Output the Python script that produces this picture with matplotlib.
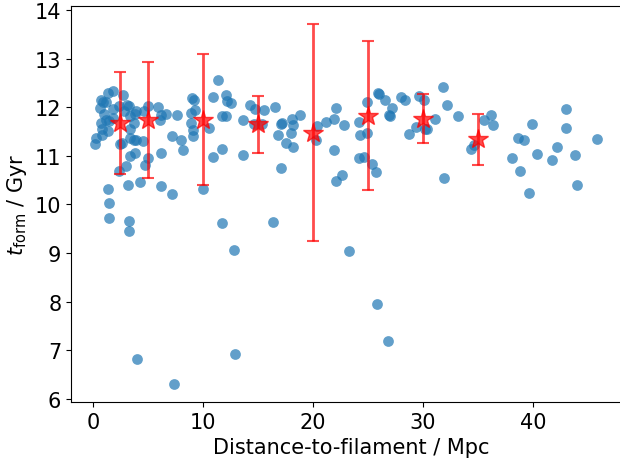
import matplotlib
matplotlib.use("Agg")
import matplotlib.pyplot as plt

# Individual galaxies: distance to filament (Mpc) and formation time (Gyr)
dist = [0.2, 0.3, 0.6, 0.7, 0.7, 0.8, 0.8, 0.9, 1.0, 1.2, 1.2, 1.4, 1.4, 1.4,
        1.5, 1.5, 1.5, 1.8, 1.8, 1.8, 2.4, 2.4, 2.5, 2.6, 2.7, 2.8, 3.0, 3.1,
        3.2, 3.3, 3.3, 3.3, 3.4, 3.4, 3.4, 3.4, 3.7, 3.7, 3.8, 3.8, 3.9, 3.9,
        4.0, 4.3, 4.5, 4.6, 4.7, 5.0, 5.0, 5.9, 6.1, 6.2, 6.2, 6.2, 6.6, 7.2,
        7.2, 7.4, 7.6, 8.0, 8.2, 8.9, 8.9, 9.0, 9.1, 9.1, 9.2, 9.3, 10.0, 10.5,
        10.9, 10.9, 11.4, 11.7, 11.7, 11.7, 12.1, 12.1, 12.2, 12.5, 12.8, 12.9,
        13.6, 13.6, 14.3, 14.7, 14.6, 15.4, 15.5, 16.4, 16.5, 16.8, 17.1, 17.1,
        17.2, 17.5, 18.0, 18.1, 18.2, 18.2, 18.8, 20.3, 20.4, 21.2, 21.9, 21.9,
        22.1, 22.1, 22.6, 22.8, 23.3, 24.2, 24.2, 24.3, 24.6, 24.9, 24.9, 25.4,
        25.7, 25.8, 25.9, 26.0, 26.5, 26.8, 26.9, 27.0, 27.2, 28.0, 28.4, 28.7,
        29.4, 29.6, 30.1, 30.2, 30.4, 31.1, 31.8, 31.9, 32.2, 33.2, 34.4, 34.6,
        35.5, 36.2, 36.4, 38.1, 38.6, 38.8, 39.2, 39.6, 39.9, 40.4, 41.7, 42.2,
        43.0, 43.0, 43.8, 44.0, 45.8]
t_form = [11.25, 11.37, 11.98, 12.16, 11.68, 11.55, 11.44, 12.11, 11.86, 12.11,
          11.75, 12.29, 11.51, 10.32, 11.72, 10.03, 9.72, 12.34, 11.97, 11.79,
          12.03, 10.70, 11.24, 11.27, 12.25, 11.92, 10.80, 12.06, 10.41, 12.04,
          9.66, 9.45, 11.82, 11.55, 11.37, 11.00, 11.68, 11.33, 11.86, 11.07,
          11.92, 11.32, 6.82, 10.47, 11.30, 11.92, 10.82, 12.03, 10.95, 12.01,
          11.75, 11.84, 11.07, 10.39, 11.87, 11.41, 10.21, 6.30, 11.84, 11.33,
          11.12, 11.89, 11.68, 12.20, 11.53, 11.42, 12.16, 11.94, 10.31, 11.58,
          12.22, 10.97, 12.56, 11.82, 11.15, 9.61, 12.25, 11.82, 12.13, 12.10,
          9.07, 6.91, 11.75, 11.03, 12.06, 11.96, 11.65, 11.65, 11.94, 9.64,
          12.01, 11.44, 11.66, 10.76, 11.68, 11.27, 11.47, 11.76, 11.64, 11.19,
          11.84, 11.32, 11.61, 11.71, 11.77, 11.13, 11.99, 10.48, 10.60, 11.64,
          9.05, 11.70, 10.95, 11.44, 10.98, 12.12, 11.48, 10.84, 10.67, 7.95,
          12.29, 12.28, 12.15, 7.19, 11.84, 11.82, 11.98, 12.22, 12.16, 11.46,
          11.60, 12.23, 12.15, 11.55, 11.56, 11.77, 12.42, 10.54, 12.06, 11.82,
          11.15, 11.22, 11.75, 11.84, 11.64, 10.95, 11.37, 10.68, 11.32, 10.24,
          11.65, 11.05, 10.92, 11.19, 11.96, 11.57, 11.03, 10.41, 11.34]

# Binned means with spread
bin_dist = [2.5, 5, 10, 15, 20, 25, 30, 35]
bin_mean = [11.68, 11.74, 11.75, 11.65, 11.48, 11.83, 11.77, 11.34]
bin_err = [1.05, 1.20, 1.35, 0.59, 2.24, 1.53, 0.50, 0.53]

fig = plt.figure(figsize=(6.2, 4.64), dpi=100)
# axes run past the right edge of the canvas, as in the cropped original
ax = fig.add_axes([0.1145, 0.1315, 0.905, 0.8534])

ax.scatter(dist, t_form, s=60, alpha=0.7, linewidths=0)
ax.errorbar(bin_dist, bin_mean, yerr=bin_err, fmt='*', color='red', alpha=0.7,
            markersize=15, capsize=4, elinewidth=2, capthick=1.5)

ax.set_xlim(-2, 49)
ax.set_xlabel("Distance-to-filament / Mpc", fontsize=15)
ax.set_ylabel(r"$t_{\rm form}$ / Gyr", fontsize=15)
ax.tick_params(labelsize=15)

fig.savefig("out.png", dpi=100)
